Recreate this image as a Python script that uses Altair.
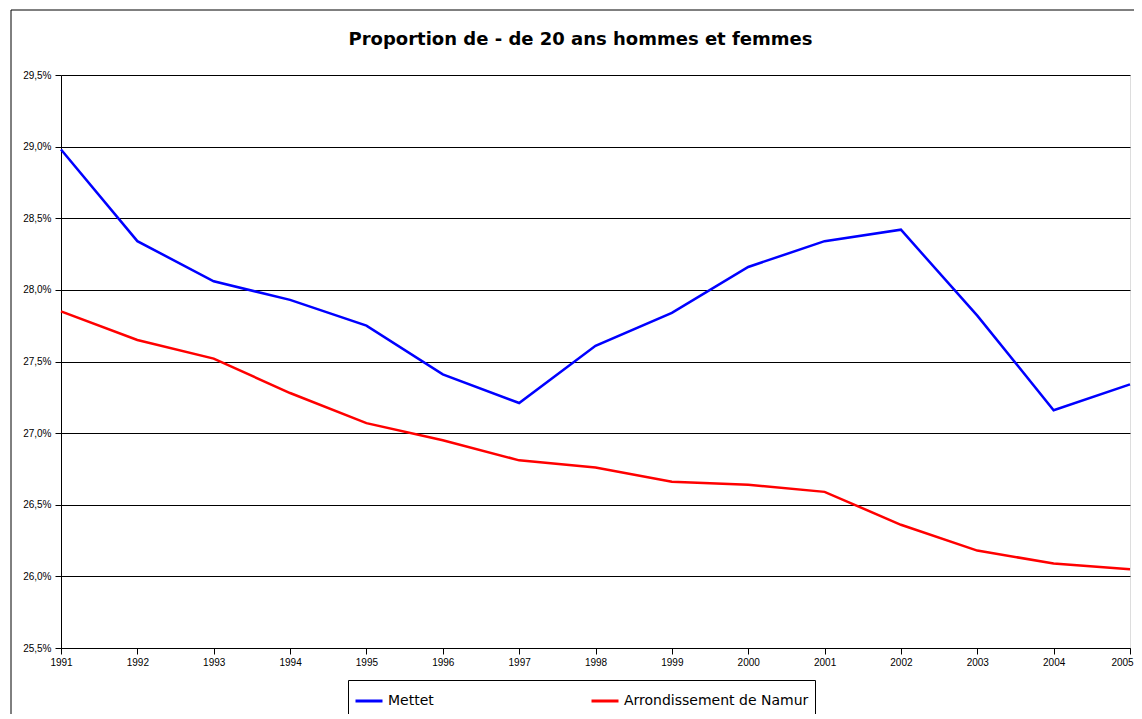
import altair as alt
import pandas as pd

years = list(range(1991, 2006))
mettet = [28.98, 28.34, 28.06, 27.93, 27.75, 27.41, 27.21, 27.61, 27.84, 28.16, 28.34, 28.42, 27.82, 27.16, 27.34]
namur = [27.85, 27.65, 27.52, 27.28, 27.07, 26.95, 26.81, 26.76, 26.66, 26.64, 26.59, 26.36, 26.18, 26.09, 26.05]
series_names = ["Mettet", "Arrondissement de Namur"]
series_colors = ["#0000ff", "#ff0000"]
y_ticks = [25.5, 26.0, 26.5, 27.0, 27.5, 28.0, 28.5, 29.0, 29.5]

rows = []
for i, yr in enumerate(years):
    rows.append({"annee": yr, "serie": series_names[0], "val": mettet[i]})
    rows.append({"annee": yr, "serie": series_names[1], "val": namur[i]})
df = pd.DataFrame(rows)

lines = alt.Chart(df).mark_line(strokeWidth=2.5).encode(
    x=alt.X("annee:Q", scale=alt.Scale(domain=[1991, 2005], nice=False, zero=False),
            axis=alt.Axis(values=years, format="d", title=None, grid=False,
                          tickSize=6, tickColor="black", domainColor="black",
                          labelFont="Liberation Sans", labelFontSize=10, labelColor="black",
                          labelPadding=3, labelFlush=False,
                          labelOffset={"condition": {"test": "datum.value == 2005", "value": -8}, "value": 0})),
    y=alt.Y("val:Q", scale=alt.Scale(domain=[25.5, 29.5], nice=False, zero=False),
            axis=alt.Axis(values=y_ticks, title=None, grid=True, gridColor="black",
                          gridOpacity=1, gridWidth=1,
                          labelExpr="replace(format(datum.value, '.1f'), '.', ',') + '%'",
                          tickSize=6, tickColor="black", domainColor="black",
                          labelFont="Liberation Sans", labelFontSize=10, labelColor="black",
                          labelPadding=4)),
    color=alt.Color("serie:N", scale=alt.Scale(domain=series_names, range=series_colors),
                    legend=alt.Legend(title=None, orient="none", legendX=287, legendY=605,
                                      direction="horizontal", columns=2,
                                      symbolType="stroke", symbolSize=729, symbolStrokeWidth=3,
                                      labelFont="DejaVu Sans", labelFontSize=14, labelColor="black",
                                      strokeColor="black", padding=6, fillColor="white",
                                      columnPadding=151, labelLimit=400)),
)

frame = alt.Chart(alt.Data(values=[{}])).mark_rect(
    fillOpacity=0, stroke="black", strokeWidth=1
).encode(
    x=alt.value(-50), x2=alt.value(1100), y=alt.value(-65), y2=alt.value(700)
)

chart = alt.layer(frame, lines).properties(
    width=1069, height=573,
    title=alt.Title("Proportion de - de 20 ans hommes et femmes", font="DejaVu Sans",
                    fontSize=18, fontWeight="bold", color="black", offset=-39, dx=-15),
    autosize=alt.AutoSizeParams(type="none"),
    padding={"left": 53, "top": 67, "right": 4, "bottom": 66},
).configure_view(stroke="black", strokeWidth=1).configure(background="white")

chart.save("out.html", embed_options={"renderer": "svg", "actions": False})
